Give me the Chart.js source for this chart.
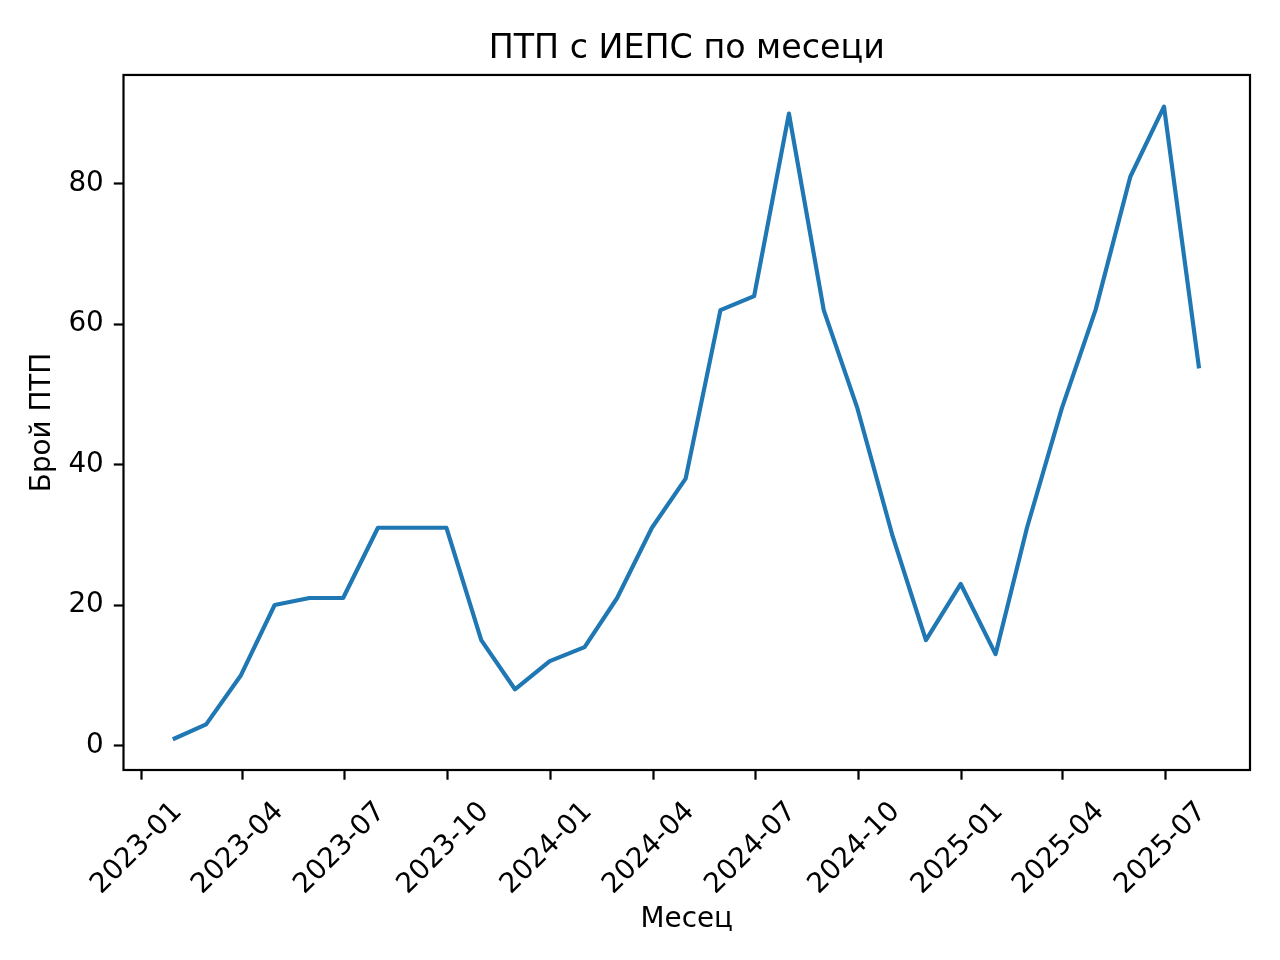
<!DOCTYPE html>
<html>
<head>
<meta charset="utf-8">
<script src="https://cdn.jsdelivr.net/npm/chart.js@4.4.1/dist/chart.umd.min.js"></script>
<style>
html,body{margin:0;padding:0;background:#fff;}
canvas{display:block;}
</style>
</head>
<body>
<canvas id="c" width="1280" height="960" style="width:1280px;height:960px"></canvas>
<script>
// ---- data ----
const months = ['2023-01','2023-02','2023-03','2023-04','2023-05','2023-06','2023-07','2023-08','2023-09','2023-10','2023-11','2023-12',
                '2024-01','2024-02','2024-03','2024-04','2024-05','2024-06','2024-07','2024-08','2024-09','2024-10','2024-11','2024-12',
                '2025-01','2025-02','2025-03','2025-04','2025-05','2025-06','2025-07'];
const counts = [1,3,10,20,21,21,31,31,31,15,8,12,
                14,21,31,38,62,64,90,62,48,30,15,23,
                13,31,48,62,81,91,54];
const xTickLabels = ['2023-01','2023-04','2023-07','2023-10','2024-01','2024-04','2024-07','2024-10','2025-01','2025-04','2025-07'];
const yTickValues = [0,20,40,60,80];
const chartTitle = 'ПТП с ИЕПС по месеци';
const xAxisTitle = 'Месец';
const yAxisTitle = 'Брой ПТП';

// ---- helpers ----
const DAY = 86400000;
function monthEndDay(m){ const p = m.split('-').map(Number); return Date.UTC(p[0], p[1], 0) / DAY; }
function monthStartDay(m){ const p = m.split('-').map(Number); return Date.UTC(p[0], p[1]-1, 1) / DAY; }

const points = months.map((m, i) => ({x: monthEndDay(m), y: counts[i]}));
const xs = points.map(p => p.x);
const x0 = Math.min(...xs), x1 = Math.max(...xs);
const y0 = Math.min(...counts), y1 = Math.max(...counts);
const xMargin = (x1 - x0) * 0.05, yMargin = (y1 - y0) * 0.05;
const xTickMap = {};
xTickLabels.forEach(l => { xTickMap[monthStartDay(l)] = l; });

const FS = 27.8;
const TICKLEN = 9.7;
const LW = 2.2;

Chart.defaults.font.family = "'DejaVu Sans', sans-serif";
Chart.defaults.color = '#000';

const framePlugin = {
  id: 'frame',
  afterLayout(chart) {
    // center the title over the axes area (like matplotlib)
    const tb = chart.titleBlock;
    if (tb) {
      tb.left = chart.chartArea.left;
      tb.right = chart.chartArea.right;
      tb.width = tb.right - tb.left;
    }
  },
  afterDatasetsDraw(chart) {
    const a = chart.chartArea, ctx = chart.ctx;
    ctx.save();
    ctx.strokeStyle = '#000';
    ctx.lineWidth = LW;
    ctx.lineJoin = 'miter';
    ctx.strokeRect(a.left, a.top, a.right - a.left, a.bottom - a.top);
    ctx.restore();
  }
};

new Chart(document.getElementById('c'), {
  type: 'line',
  data: {
    datasets: [{
      data: points,
      borderColor: '#1f77b4',
      backgroundColor: '#1f77b4',
      borderWidth: 4.17,
      pointRadius: 0,
      pointHoverRadius: 0,
      tension: 0,
      fill: false,
      borderJoinStyle: 'round',
      borderCapStyle: 'square'
    }]
  },
  options: {
    responsive: false,
    animation: false,
    devicePixelRatio: 1,
    events: [],
    layout: { padding: { left: 0, right: 30, top: 0, bottom: 0 } },
    plugins: {
      legend: { display: false },
      tooltip: { enabled: false },
      title: {
        display: true,
        text: chartTitle,
        color: '#000',
        font: { size: 33.3, weight: 'normal', lineHeight: 1.2 },
        padding: { top: 29, bottom: 6 }
      }
    },
    scales: {
      x: {
        type: 'linear',
        min: x0 - xMargin,
        max: x1 + xMargin,
        afterBuildTicks: (scale) => { scale.ticks = xTickLabels.map(l => ({ value: monthStartDay(l) })); },
        afterFit: (scale) => { scale.height = 190; },
        border: { display: false },
        grid: { display: true, drawOnChartArea: false, drawTicks: true, tickLength: TICKLEN, tickWidth: LW, tickColor: '#000' },
        ticks: {
          autoSkip: false,
          minRotation: 45,
          maxRotation: 45,
          padding: 16,
          labelOffset: 37,
          color: '#000',
          font: { size: FS },
          callback: (v) => xTickMap[v] || ''
        },
        title: {
          display: true,
          text: xAxisTitle,
          color: '#000',
          font: { size: FS, lineHeight: 1.2 },
          padding: { top: 0, bottom: 24 }
        }
      },
      y: {
        type: 'linear',
        min: y0 - yMargin,
        max: y1 + yMargin,
        afterBuildTicks: (scale) => { scale.ticks = yTickValues.map(v => ({ value: v })); },
        afterFit: (scale) => { scale.width = 123.5; },
        border: { display: false },
        grid: { display: true, drawOnChartArea: false, drawTicks: true, tickLength: TICKLEN, tickWidth: LW, tickColor: '#000' },
        ticks: {
          autoSkip: false,
          padding: 10,
          color: '#000',
          font: { size: FS },
          callback: (v) => String(v)
        },
        title: {
          display: true,
          text: yAxisTitle,
          color: '#000',
          font: { size: FS, lineHeight: 1.2 },
          padding: { top: 26, bottom: 0 }
        }
      }
    }
  },
  plugins: [framePlugin]
});
</script>
</body>
</html>
